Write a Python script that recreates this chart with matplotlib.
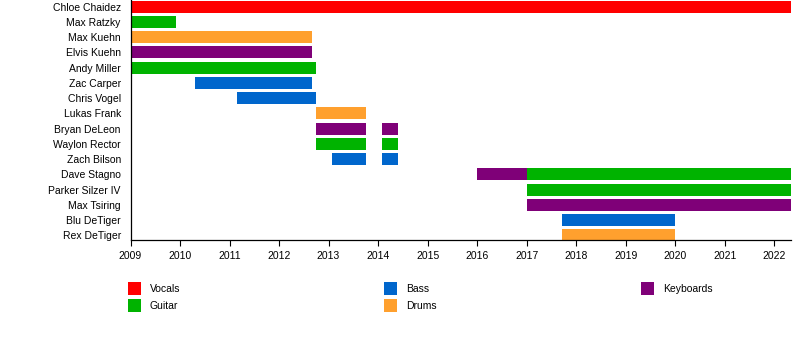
import matplotlib.pyplot as plt
from matplotlib.patches import Rectangle

plt.rcParams['font.family'] = ['Liberation Sans', 'DejaVu Sans']

members = ['Chloe Chaidez', 'Max Ratzky', 'Max Kuehn', 'Elvis Kuehn', 'Andy Miller',
           'Zac Carper', 'Chris Vogel', 'Lukas Frank', 'Bryan DeLeon', 'Waylon Rector',
           'Zach Bilson', 'Dave Stagno', 'Parker Silzer IV', 'Max Tsiring',
           'Blu DeTiger', 'Rex DeTiger']

# one entry per stint: who, role, start, end (decimal years)
stint_member = ['Chloe Chaidez', 'Max Ratzky', 'Max Kuehn', 'Elvis Kuehn', 'Andy Miller',
                'Zac Carper', 'Chris Vogel', 'Lukas Frank',
                'Bryan DeLeon', 'Bryan DeLeon', 'Waylon Rector', 'Waylon Rector',
                'Zach Bilson', 'Zach Bilson', 'Dave Stagno', 'Dave Stagno',
                'Parker Silzer IV', 'Max Tsiring', 'Blu DeTiger', 'Rex DeTiger']
stint_role = ['Vocals', 'Guitar', 'Drums', 'Keyboards', 'Guitar',
              'Bass', 'Bass', 'Drums',
              'Keyboards', 'Keyboards', 'Guitar', 'Guitar',
              'Bass', 'Bass', 'Keyboards', 'Guitar',
              'Guitar', 'Keyboards', 'Bass', 'Drums']
stint_start = [2009.0, 2009.0, 2009.0, 2009.0, 2009.0,
               2010.30, 2011.15, 2012.75,
               2012.75, 2014.08, 2012.75, 2014.08,
               2013.07, 2014.08, 2016.0, 2017.0,
               2017.0, 2017.0, 2017.72, 2017.72]
stint_end = [2022.34, 2009.92, 2012.67, 2012.67, 2012.75,
             2012.67, 2012.75, 2013.76,
             2013.76, 2014.40, 2013.76, 2014.40,
             2013.76, 2014.40, 2017.0, 2022.34,
             2022.34, 2022.34, 2020.0, 2020.0]

roles = ['Vocals', 'Guitar', 'Bass', 'Drums', 'Keyboards']
role_colors = {'Vocals': '#ff0000', 'Guitar': '#00b300', 'Bass': '#0066cc',
               'Drums': '#ffa02e', 'Keyboards': '#7f0078'}
years = list(range(2009, 2023))

W, H = 800, 340
fig = plt.figure(figsize=(W / 100, H / 100), dpi=100)
ax = fig.add_axes([130.5 / W, 100 / H, (791 - 130.5) / W, 240 / H])

row = {name: i for i, name in enumerate(members)}
for m, r, s, e in zip(stint_member, stint_role, stint_start, stint_end):
    ax.barh(row[m], e - s, left=s, height=0.79, color=role_colors[r], linewidth=0)

ax.set_xlim(2009, 2022.34)
ax.set_ylim(15.31, -0.43)
ax.set_yticks(range(len(members)))
ax.set_yticklabels(members, fontsize=7.5)
ax.tick_params(axis='y', length=0, pad=7)
ax.set_xticks(years)
ax.set_xticklabels([str(y) for y in years], fontsize=7.5)
ax.tick_params(axis='x', length=4, width=0.8, pad=4)
for side in ['top', 'right']:
    ax.spines[side].set_visible(False)
for side in ['left', 'bottom']:
    ax.spines[side].set_linewidth(0.9)

# legend drawn as colour swatches below the axis
legend_pos = {'Vocals': (128, 282), 'Guitar': (128, 299), 'Bass': (384, 282),
              'Drums': (384, 299), 'Keyboards': (641, 282)}
for r in roles:
    x, y = legend_pos[r]
    fig.patches.append(Rectangle((x / W, 1 - (y + 13) / H), 13 / W, 13 / H,
                                 transform=fig.transFigure, color=role_colors[r],
                                 linewidth=0))
    fig.text((x + 22) / W, 1 - (y + 7) / H, r, fontsize=7.5, va='center', ha='left')

fig.savefig('out.png', dpi=100)
